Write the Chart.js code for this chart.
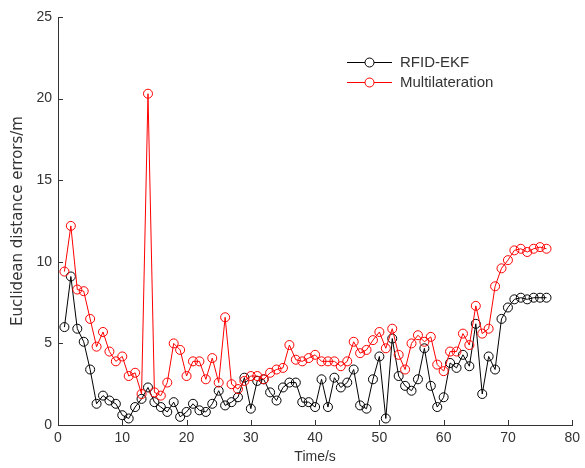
<!DOCTYPE html>
<html>
<head>
<meta charset="utf-8">
<script src="https://cdn.jsdelivr.net/npm/chart.js@4"></script>
<style>
html,body{margin:0;padding:0;background:#fff;}
#wrap{width:585px;height:468px;position:relative;}
</style>
</head>
<body>
<div id="wrap"><canvas id="c" width="585" height="468"></canvas></div>
<script>
const times = [1,2,3,4,5,6,7,8,9,10,11,12,13,14,15,16,17,18,19,20,21,22,23,24,25,26,27,28,29,30,31,32,33,34,35,36,37,38,39,40,41,42,43,44,45,46,47,48,49,50,51,52,53,54,55,56,57,58,59,60,61,62,63,64,65,66,67,68,69,70,71,72,73,74,75,76];
const rfidEkf = [6.0,9.1,5.9,5.1,3.4,1.3,1.8,1.5,1.3,0.6,0.4,1.1,1.6,2.3,1.4,1.1,0.8,1.4,0.5,0.8,1.3,0.9,0.8,1.3,2.1,1.2,1.4,1.7,2.9,1.0,2.7,2.8,2.0,1.5,2.3,2.6,2.6,1.4,1.4,1.1,2.8,1.1,2.9,2.3,2.6,3.4,1.2,1.0,2.8,4.2,0.4,5.3,3.0,2.4,2.1,2.8,4.7,2.4,1.1,1.7,3.8,3.5,4.3,3.6,6.2,1.9,4.2,3.4,6.5,7.2,7.7,7.8,7.7,7.8,7.8,7.8];
const multilateration = [9.4,12.2,8.3,8.2,6.5,4.8,5.7,4.5,3.9,4.2,3.0,3.2,1.9,20.3,2.0,1.8,2.6,5.0,4.6,3.0,3.9,3.9,2.8,4.1,2.6,6.6,2.5,2.2,2.7,3.0,3.0,2.8,3.2,3.4,3.5,4.9,4.0,3.9,4.1,4.3,3.9,3.9,3.9,3.6,3.9,5.1,4.4,4.6,5.2,5.7,4.7,5.9,4.3,3.4,5.0,5.5,5.1,5.4,3.7,3.3,4.5,4.5,5.6,4.9,7.3,5.6,5.9,8.5,9.6,10.1,10.7,10.8,10.6,10.8,10.9,10.8];
const seriesNames = ['RFID-EKF','Multilateration'];
const xTitle = 'Time/s';
const yTitle = 'Euclidean distance errors/m';

const FONT = 'Arial, "Liberation Sans", sans-serif';
const AXIS = '#333333';

const innerTicks = {
  id:'innerTicks',
  afterDraw(chart){
    const ctx = chart.ctx, a = chart.chartArea;
    const xs = chart.scales.x, ys = chart.scales.y;
    ctx.save();
    ctx.strokeStyle = AXIS; ctx.lineWidth = 1;
    ctx.beginPath();
    xs.ticks.forEach((t,i)=>{
      const px = Math.round(xs.getPixelForTick(i))+0.5;
      ctx.moveTo(px, a.bottom); ctx.lineTo(px, a.bottom-5);
    });
    ys.ticks.forEach((t,i)=>{
      const py = Math.round(ys.getPixelForTick(i))+0.5;
      ctx.moveTo(a.left, py); ctx.lineTo(a.left+5, py);
    });
    ctx.stroke();
    // legend
    const cols = ['#000000','#ff0000'];
    const ys2 = [62,82];
    ctx.font = '15px ' + FONT;
    ctx.textBaseline = 'middle';
    seriesNames.forEach((n,i)=>{
      ctx.strokeStyle = cols[i];
      ctx.beginPath();
      ctx.moveTo(347, ys2[i]+0.5); ctx.lineTo(392, ys2[i]+0.5);
      ctx.stroke();
      ctx.beginPath();
      ctx.arc(369.5, ys2[i]+0.5, 4.5, 0, Math.PI*2);
      ctx.fillStyle = '#fff'; ctx.fill();
      ctx.stroke();
      ctx.fillStyle = '#333';
      ctx.fillText(n, 400, ys2[i]+1);
    });
    ctx.restore();
  }
};

new Chart(document.getElementById('c'), {
  type:'line',
  data:{
    datasets:[
      {label:seriesNames[0], data:times.map((t,i)=>({x:t,y:rfidEkf[i]})), borderColor:'#000000', borderWidth:1, pointRadius:4.5, pointBorderWidth:1, pointBackgroundColor:'rgba(0,0,0,0)', pointBorderColor:'#000000', tension:0, order:2},
      {label:seriesNames[1], data:times.map((t,i)=>({x:t,y:multilateration[i]})), borderColor:'#ff0000', borderWidth:1, pointRadius:4.5, pointBorderWidth:1, pointBackgroundColor:'rgba(0,0,0,0)', pointBorderColor:'#ff0000', tension:0, order:1}
    ]
  },
  options:{
    responsive:false, animation:false,
    layout:{padding:{left:0,right:8,top:17,bottom:0}},
    plugins:{legend:{display:false}, tooltip:{enabled:false}},
    scales:{
      x:{type:'linear', min:0, max:80,
        ticks:{stepSize:10, color:AXIS, font:{family:FONT,size:14}, padding:5, maxRotation:0},
        grid:{display:true, drawOnChartArea:false, drawTicks:false},
        border:{display:true, color:AXIS, width:1},
        title:{display:true, text:xTitle, color:AXIS, font:{family:FONT,size:14}, padding:{top:0,bottom:2}},
        afterFit(s){ s.height = 43; }
      },
      y:{min:0, max:25,
        ticks:{stepSize:5, color:AXIS, font:{family:FONT,size:14}, padding:6},
        grid:{display:true, drawOnChartArea:false, drawTicks:false},
        border:{display:true, color:AXIS, width:1},
        title:{display:true, text:yTitle, color:AXIS, font:{family:'"DejaVu Sans", sans-serif',size:15}, padding:{top:9,bottom:0}},
        afterFit(s){ s.width = 58; }
      }
    }
  },
  plugins:[innerTicks]
});
</script>
</body>
</html>
